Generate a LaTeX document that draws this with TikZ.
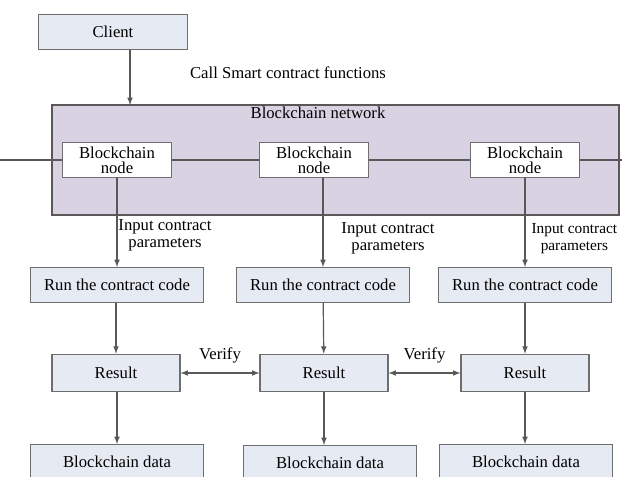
\documentclass[tikz,border=0pt]{standalone}
\usepackage{fontspec}
\setmainfont{Liberation Serif}
\usetikzlibrary{arrows,positioning}
\definecolor{boxfill}{HTML}{E6EAF2}
\definecolor{netfill}{HTML}{D9D2E3}
\definecolor{edge}{HTML}{6E6E6E}
\tikzset{
	box/.style      = {shape=rectangle, draw=edge, fill=boxfill, line width=0.9pt,
		minimum height=26pt, inner sep=1pt, align=center,
		font=\fontsize{12.5}{13}\selectfont},
	runbox/.style   = {box, minimum width=130pt},
	resbox/.style   = {box, minimum width=96pt, minimum height=28pt},
	chainnode/.style = {box, fill=white, minimum width=82pt, font=\fontsize{12.5}{11.5}\selectfont},
	label/.style    = {align=center, inner sep=1pt, font=\fontsize{12.5}{13}\selectfont},
	curve/.style    = {draw=edge!80!black, line width=0.9pt, -latex},
}
\tikzstyle{line} = [draw=edge!80!black, line width=0.9pt]

\begin{document}
\begin{tikzpicture}[x=0.75pt, y=-0.75pt]
\useasboundingbox (0,0) rectangle (622,477);

% client and network
\node [box, minimum width=112pt] (client) at (113,32) {Client};
\draw [line, fill=netfill] (52,105) rectangle (619,215);
\node [label] (net) at (318,113) {Blockchain network};
\coordinate (callin) at (130,105);

% chain of nodes
\coordinate (west) at (0,160);
\coordinate (east) at (622,160);
\node [chainnode] (node1) at (117,160) {Blockchain\\node};
\node [chainnode] (node2) at (314,160) {Blockchain\\node};
\node [chainnode] (node3) at (525,160) {Blockchain\\node};
\path [line] (west) -- (node1) -- (node2) -- (node3) -- (east);

% each column
\node [runbox] (run1) at (117,285) {Run the contract code};
\node [runbox] (run2) at (323,285) {Run the contract code};
\node [runbox] (run3) at (525,285) {Run the contract code};
\node [resbox] (res1) at (116,373) {Result};
\node [resbox] (res2) at (324,373) {Result};
\node [resbox] (res3) at (525,373) {Result};
\node [runbox] (data1) at (117,462) {Blockchain data};
\node [runbox] (data2) at (330,463) {Blockchain data};
\node [runbox] (data3) at (526,462) {Blockchain data};

\draw [curve] (client.south -| callin) -- (callin);
\node [label] (call) at (288,73) {Call Smart contract functions};

\draw [curve] (node1) -- (run1);
\draw [curve] (node2.south -| run2) -- (run2);
\draw [curve] (node3) -- (run3);
\node [label] (in1) at (165,235) {Input contract\\parameters};
\node [label] (in2) at (388,238) {Input contract\\parameters};
\node [label, anchor=north west, font=\fontsize{11.5}{13}\selectfont] (in3) at (530,222) {Input contract\\parameters};

\draw [curve] (run1.south -| res1) -- (res1);
\draw [curve] (run2) -- (res2);
\draw [curve] (run3) -- (res3);
\draw [curve] (res1.south -| data1) -- (data1);
\draw [curve] (res2) -- (res2 |- data2.north);
\draw [curve] (res3) -- (res3 |- data3.north);

% verification
\draw [curve, latex-latex] (res1) -- (res2) node [label, midway, above=6pt] {Verify};
\draw [curve, latex-latex] (res2) -- (res3) node [label, midway, above=6pt] {Verify};
\end{tikzpicture}
\end{document}
